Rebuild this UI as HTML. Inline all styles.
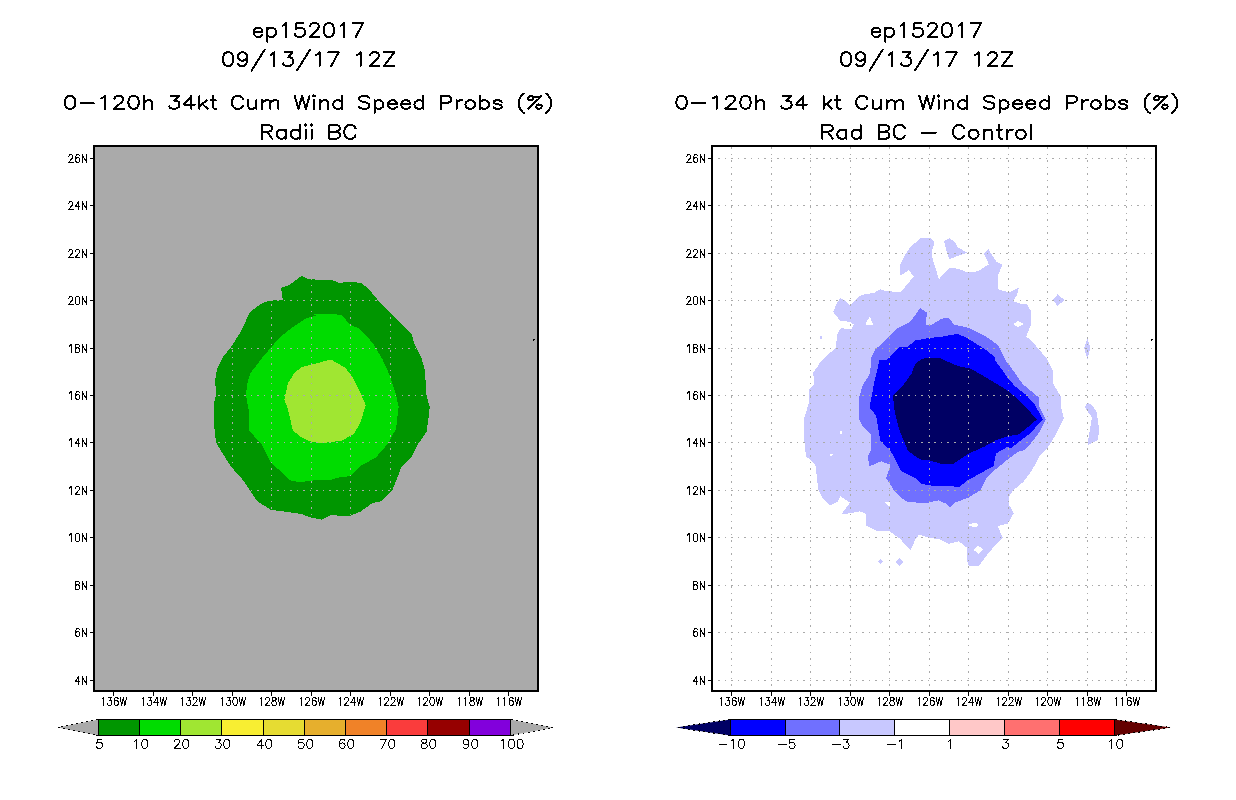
<!DOCTYPE html>
<html><head><meta charset="utf-8"><title>ep152017 wind speed probs</title>
<style>
html,body{margin:0;padding:0;background:#fff;width:1236px;height:800px;overflow:hidden}
svg{display:block}

.h1{fill:none;stroke:#000;stroke-width:1;stroke-linecap:round;stroke-linejoin:round}
.h2{fill:none;stroke:#000;stroke-width:2;stroke-linecap:round;stroke-linejoin:round}
</style></head><body>
<svg width="1236" height="800" viewBox="0 0 1236 800" shape-rendering="crispEdges">
<rect width="1236" height="800" fill="#fff"/>

<g>
<path d="M253.67 31.70L262.36 31.70L262.36 30.38L261.64 29.06L260.91 28.39L259.46 27.73L257.29 27.73L255.84 28.39L254.40 29.72L253.67 31.70L253.67 33.03L254.40 35.01L255.84 36.34L257.29 37.00L259.46 37.00L260.91 36.34L262.36 35.01M267.43 27.73L267.43 41.63M267.43 29.72L268.88 28.39L270.32 27.73L272.50 27.73L273.94 28.39L275.39 29.72L276.12 31.70L276.12 33.03L275.39 35.01L273.94 36.34L272.50 37.00L270.32 37.00L268.88 36.34L267.43 35.01M282.63 25.75L284.08 25.08L286.25 23.10L286.25 37.00M303.63 23.10L296.39 23.10L295.66 29.06L296.39 28.39L298.56 27.73L300.73 27.73L302.90 28.39L304.35 29.72L305.08 31.70L305.08 33.03L304.35 35.01L302.90 36.34L300.73 37.00L298.56 37.00L296.39 36.34L295.66 35.68L294.94 34.35M310.14 26.41L310.14 25.75L310.87 24.42L311.59 23.76L313.04 23.10L315.94 23.10L317.38 23.76L318.11 24.42L318.83 25.75L318.83 27.07L318.11 28.39L316.66 30.38L309.42 37.00L319.56 37.00M328.24 23.10L326.07 23.76L324.62 25.75L323.90 29.06L323.90 31.04L324.62 34.35L326.07 36.34L328.24 37.00L329.69 37.00L331.86 36.34L333.31 34.35L334.04 31.04L334.04 29.06L333.31 25.75L331.86 23.76L329.69 23.10L328.24 23.10M340.55 25.75L342.00 25.08L344.17 23.10L344.17 37.00M363.00 23.10L355.76 37.00M352.86 23.10L363.00 23.10" class="h2"/>
<path d="M227.39 52.24L225.19 52.90L223.73 54.87L223.00 58.14L223.00 60.10L223.73 63.38L225.19 65.34L227.39 66.00L228.85 66.00L231.05 65.34L232.51 63.38L233.24 60.10L233.24 58.14L232.51 54.87L231.05 52.90L228.85 52.24L227.39 52.24M247.15 56.83L246.42 58.80L244.96 60.10L242.76 60.76L242.03 60.76L239.83 60.10L238.37 58.80L237.64 56.83L237.64 56.17L238.37 54.21L239.83 52.90L242.03 52.24L242.76 52.24L244.96 52.90L246.42 54.21L247.15 56.83L247.15 60.10L246.42 63.38L244.96 65.34L242.76 66.00L241.30 66.00L239.10 65.34L238.37 64.03M264.72 49.62L251.54 70.58M270.58 54.87L272.04 54.21L274.24 52.24L274.24 66.00M284.48 52.24L292.54 52.24L288.14 57.48L290.34 57.48L291.80 58.14L292.54 58.80L293.27 60.76L293.27 62.07L292.54 64.03L291.07 65.34L288.88 66.00L286.68 66.00L284.48 65.34L283.75 64.69L283.02 63.38M310.10 49.62L296.93 70.58M315.96 54.87L317.42 54.21L319.62 52.24L319.62 66.00M338.65 52.24L331.33 66.00M328.40 52.24L338.65 52.24M356.95 54.87L358.42 54.21L360.61 52.24L360.61 66.00M370.13 55.52L370.13 54.87L370.86 53.55L371.59 52.90L373.06 52.24L375.98 52.24L377.45 52.90L378.18 53.55L378.91 54.87L378.91 56.17L378.18 57.48L376.72 59.45L369.40 66.00L379.64 66.00M394.28 52.24L384.04 66.00M384.04 52.24L394.28 52.24M384.04 66.00L394.28 66.00" class="h2"/>
<path d="M69.35 95.99L67.13 96.60L65.66 98.43L64.92 101.48L64.92 103.31L65.66 106.36L67.13 108.19L69.35 108.80L70.83 108.80L73.05 108.19L74.52 106.36L75.26 103.31L75.26 101.48L74.52 98.43L73.05 96.60L70.83 95.99L69.35 95.99M80.44 103.31L93.74 103.31M101.13 98.43L102.61 97.82L104.82 95.99L104.82 108.80M114.43 99.04L114.43 98.43L115.17 97.21L115.91 96.60L117.39 95.99L120.34 95.99L121.82 96.60L122.56 97.21L123.30 98.43L123.30 99.65L122.56 100.87L121.08 102.70L113.69 108.80L124.04 108.80M132.91 95.99L130.69 96.60L129.21 98.43L128.47 101.48L128.47 103.31L129.21 106.36L130.69 108.19L132.91 108.80L134.38 108.80L136.60 108.19L138.08 106.36L138.82 103.31L138.82 101.48L138.08 98.43L136.60 96.60L134.38 95.99L132.91 95.99M143.99 95.99L143.99 108.80M143.99 102.70L146.21 100.87L147.69 100.26L149.90 100.26L151.38 100.87L152.12 102.70L152.12 108.80M170.59 95.99L178.72 95.99L174.29 100.87L176.51 100.87L177.98 101.48L178.72 102.09L179.46 103.92L179.46 105.14L178.72 106.97L177.25 108.19L175.03 108.80L172.81 108.80L170.59 108.19L169.85 107.58L169.12 106.36M191.29 95.99L183.90 104.53L194.98 104.53M191.29 95.99L191.29 108.80M199.41 95.99L199.41 108.80M206.81 100.26L199.41 106.36M202.37 103.92L207.54 108.80M212.72 95.99L212.72 106.36L213.46 108.19L214.93 108.80L216.41 108.80M210.50 100.26L215.67 100.26M243.02 99.04L242.28 97.82L240.80 96.60L239.32 95.99L236.37 95.99L234.89 96.60L233.41 97.82L232.67 99.04L231.93 100.87L231.93 103.92L232.67 105.75L233.41 106.97L234.89 108.19L236.37 108.80L239.32 108.80L240.80 108.19L242.28 106.97L243.02 105.75M248.19 100.26L248.19 106.36L248.93 108.19L250.41 108.80L252.62 108.80L254.10 108.19L256.32 106.36M256.32 100.26L256.32 108.80M262.23 100.26L262.23 108.80M262.23 102.70L264.45 100.87L265.93 100.26L268.14 100.26L269.62 100.87L270.36 102.70L270.36 108.80M270.36 102.70L272.58 100.87L274.05 100.26L276.27 100.26L277.75 100.87L278.49 102.70L278.49 108.80M294.75 95.99L298.44 108.80M302.14 95.99L298.44 108.80M302.14 95.99L305.83 108.80M309.53 95.99L305.83 108.80M313.22 95.99L313.96 96.60L314.70 95.99L313.96 95.38L313.22 95.99M313.96 100.26L313.96 108.80M319.87 100.26L319.87 108.80M319.87 102.70L322.09 100.87L323.57 100.26L325.78 100.26L327.26 100.87L328.00 102.70L328.00 108.80M342.04 95.99L342.04 108.80M342.04 102.09L340.56 100.87L339.09 100.26L336.87 100.26L335.39 100.87L333.91 102.09L333.17 103.92L333.17 105.14L333.91 106.97L335.39 108.19L336.87 108.80L339.09 108.80L340.56 108.19L342.04 106.97M369.38 97.82L367.91 96.60L365.69 95.99L362.73 95.99L360.52 96.60L359.04 97.82L359.04 99.04L359.78 100.26L360.52 100.87L362.00 101.48L366.43 102.70L367.91 103.31L368.65 103.92L369.38 105.14L369.38 106.97L367.91 108.19L365.69 108.80L362.73 108.80L360.52 108.19L359.04 106.97M374.56 100.26L374.56 113.07M374.56 102.09L376.04 100.87L377.51 100.26L379.73 100.26L381.21 100.87L382.69 102.09L383.43 103.92L383.43 105.14L382.69 106.97L381.21 108.19L379.73 108.80L377.51 108.80L376.04 108.19L374.56 106.97M387.86 103.92L396.73 103.92L396.73 102.70L395.99 101.48L395.25 100.87L393.77 100.26L391.55 100.26L390.08 100.87L388.60 102.09L387.86 103.92L387.86 105.14L388.60 106.97L390.08 108.19L391.55 108.80L393.77 108.80L395.25 108.19L396.73 106.97M401.16 103.92L410.03 103.92L410.03 102.70L409.29 101.48L408.55 100.87L407.07 100.26L404.86 100.26L403.38 100.87L401.90 102.09L401.16 103.92L401.16 105.14L401.90 106.97L403.38 108.19L404.86 108.80L407.07 108.80L408.55 108.19L410.03 106.97M423.33 95.99L423.33 108.80M423.33 102.09L421.85 100.87L420.38 100.26L418.16 100.26L416.68 100.87L415.20 102.09L414.46 103.92L414.46 105.14L415.20 106.97L416.68 108.19L418.16 108.80L420.38 108.80L421.85 108.19L423.33 106.97M441.07 95.99L441.07 108.80M441.07 95.99L447.72 95.99L449.94 96.60L450.68 97.21L451.41 98.43L451.41 100.26L450.68 101.48L449.94 102.09L447.72 102.70L441.07 102.70M456.59 100.26L456.59 108.80M456.59 103.92L457.33 102.09L458.80 100.87L460.28 100.26L462.50 100.26M469.15 100.26L467.67 100.87L466.19 102.09L465.46 103.92L465.46 105.14L466.19 106.97L467.67 108.19L469.15 108.80L471.37 108.80L472.85 108.19L474.32 106.97L475.06 105.14L475.06 103.92L474.32 102.09L472.85 100.87L471.37 100.26L469.15 100.26M480.24 95.99L480.24 108.80M480.24 102.09L481.71 100.87L483.19 100.26L485.41 100.26L486.89 100.87L488.36 102.09L489.10 103.92L489.10 105.14L488.36 106.97L486.89 108.19L485.41 108.80L483.19 108.80L481.71 108.19L480.24 106.97M501.67 102.09L500.93 100.87L498.71 100.26L496.49 100.26L494.28 100.87L493.54 102.09L494.28 103.31L495.75 103.92L499.45 104.53L500.93 105.14L501.67 106.36L501.67 106.97L500.93 108.19L498.71 108.80L496.49 108.80L494.28 108.19L493.54 106.97M523.84 93.55L522.36 94.77L520.88 96.60L519.40 99.04L518.66 102.09L518.66 104.53L519.40 107.58L520.88 110.02L522.36 111.85L523.84 113.07M541.57 95.99L528.27 108.80M531.97 95.99L533.44 97.21L533.44 98.43L532.70 99.65L531.23 100.26L529.75 100.26L528.27 99.04L528.27 97.82L529.01 96.60L530.49 95.99L531.97 95.99L533.44 96.60L535.66 97.21L537.88 97.21L540.09 96.60L541.57 95.99M538.62 104.53L537.14 105.14L536.40 106.36L536.40 107.58L537.88 108.80L539.36 108.80L540.83 108.19L541.57 106.97L541.57 105.75L540.09 104.53L538.62 104.53M546.01 93.55L547.48 94.77L548.96 96.60L550.44 99.04L551.18 102.09L551.18 104.53L550.44 107.58L548.96 110.02L547.48 111.85L546.01 113.07" class="h2"/>
<path d="M261.78 125.00L261.78 138.80M261.78 125.00L268.47 125.00L270.70 125.66L271.45 126.32L272.19 127.63L272.19 128.95L271.45 130.26L270.70 130.92L268.47 131.57L261.78 131.57M266.98 131.57L272.19 138.80M285.58 129.60L285.58 138.80M285.58 131.57L284.10 130.26L282.61 129.60L280.38 129.60L278.89 130.26L277.40 131.57L276.66 133.54L276.66 134.86L277.40 136.83L278.89 138.14L280.38 138.80L282.61 138.80L284.10 138.14L285.58 136.83M299.72 125.00L299.72 138.80M299.72 131.57L298.23 130.26L296.74 129.60L294.51 129.60L293.02 130.26L291.54 131.57L290.79 133.54L290.79 134.86L291.54 136.83L293.02 138.14L294.51 138.80L296.74 138.80L298.23 138.14L299.72 136.83M304.93 125.00L305.67 125.66L306.42 125.00L305.67 124.35L304.93 125.00M305.67 129.60L305.67 138.80M310.88 125.00L311.62 125.66L312.37 125.00L311.62 124.35L310.88 125.00M311.62 129.60L311.62 138.80M329.48 125.00L329.48 138.80M329.48 125.00L336.18 125.00L338.41 125.66L339.15 126.32L339.90 127.63L339.90 128.95L339.15 130.26L338.41 130.92L336.18 131.57M329.48 131.57L336.18 131.57L338.41 132.23L339.15 132.89L339.90 134.20L339.90 136.17L339.15 137.49L338.41 138.14L336.18 138.80L329.48 138.80M355.52 128.29L354.78 126.97L353.29 125.66L351.80 125.00L348.82 125.00L347.34 125.66L345.85 126.97L345.10 128.29L344.36 130.26L344.36 133.54L345.10 135.52L345.85 136.83L347.34 138.14L348.82 138.80L351.80 138.80L353.29 138.14L354.78 136.83L355.52 135.52" class="h2"/>
<path d="M871.67 31.70L880.36 31.70L880.36 30.38L879.64 29.06L878.91 28.39L877.46 27.73L875.29 27.73L873.84 28.39L872.40 29.72L871.67 31.70L871.67 33.03L872.40 35.01L873.84 36.34L875.29 37.00L877.46 37.00L878.91 36.34L880.36 35.01M885.43 27.73L885.43 41.63M885.43 29.72L886.88 28.39L888.32 27.73L890.50 27.73L891.94 28.39L893.39 29.72L894.12 31.70L894.12 33.03L893.39 35.01L891.94 36.34L890.50 37.00L888.32 37.00L886.88 36.34L885.43 35.01M900.63 25.75L902.08 25.08L904.25 23.10L904.25 37.00M921.63 23.10L914.39 23.10L913.66 29.06L914.39 28.39L916.56 27.73L918.73 27.73L920.90 28.39L922.35 29.72L923.08 31.70L923.08 33.03L922.35 35.01L920.90 36.34L918.73 37.00L916.56 37.00L914.39 36.34L913.66 35.68L912.94 34.35M928.14 26.41L928.14 25.75L928.87 24.42L929.59 23.76L931.04 23.10L933.94 23.10L935.38 23.76L936.11 24.42L936.83 25.75L936.83 27.07L936.11 28.39L934.66 30.38L927.42 37.00L937.56 37.00M946.24 23.10L944.07 23.76L942.62 25.75L941.90 29.06L941.90 31.04L942.62 34.35L944.07 36.34L946.24 37.00L947.69 37.00L949.86 36.34L951.31 34.35L952.04 31.04L952.04 29.06L951.31 25.75L949.86 23.76L947.69 23.10L946.24 23.10M958.55 25.75L960.00 25.08L962.17 23.10L962.17 37.00M981.00 23.10L973.76 37.00M970.86 23.10L981.00 23.10" class="h2"/>
<path d="M845.39 52.24L843.19 52.90L841.73 54.87L841.00 58.14L841.00 60.10L841.73 63.38L843.19 65.34L845.39 66.00L846.85 66.00L849.05 65.34L850.51 63.38L851.24 60.10L851.24 58.14L850.51 54.87L849.05 52.90L846.85 52.24L845.39 52.24M865.15 56.83L864.42 58.80L862.96 60.10L860.76 60.76L860.03 60.76L857.83 60.10L856.37 58.80L855.64 56.83L855.64 56.17L856.37 54.21L857.83 52.90L860.03 52.24L860.76 52.24L862.96 52.90L864.42 54.21L865.15 56.83L865.15 60.10L864.42 63.38L862.96 65.34L860.76 66.00L859.30 66.00L857.10 65.34L856.37 64.03M882.72 49.62L869.54 70.58M888.58 54.87L890.04 54.21L892.24 52.24L892.24 66.00M902.48 52.24L910.54 52.24L906.14 57.48L908.34 57.48L909.80 58.14L910.54 58.80L911.27 60.76L911.27 62.07L910.54 64.03L909.07 65.34L906.88 66.00L904.68 66.00L902.48 65.34L901.75 64.69L901.02 63.38M928.10 49.62L914.93 70.58M933.96 54.87L935.42 54.21L937.62 52.24L937.62 66.00M956.65 52.24L949.33 66.00M946.40 52.24L956.65 52.24M974.95 54.87L976.42 54.21L978.61 52.24L978.61 66.00M988.13 55.52L988.13 54.87L988.86 53.55L989.59 52.90L991.06 52.24L993.98 52.24L995.45 52.90L996.18 53.55L996.91 54.87L996.91 56.17L996.18 57.48L994.72 59.45L987.40 66.00L997.64 66.00M1012.28 52.24L1002.04 66.00M1002.04 52.24L1012.28 52.24M1002.04 66.00L1012.28 66.00" class="h2"/>
<path d="M680.89 95.99L678.66 96.60L677.17 98.43L676.43 101.48L676.43 103.31L677.17 106.36L678.66 108.19L680.89 108.80L682.37 108.80L684.60 108.19L686.09 106.36L686.83 103.31L686.83 101.48L686.09 98.43L684.60 96.60L682.37 95.99L680.89 95.99M692.03 103.31L705.41 103.31M712.84 98.43L714.32 97.82L716.55 95.99L716.55 108.80M726.21 99.04L726.21 98.43L726.95 97.21L727.70 96.60L729.18 95.99L732.15 95.99L733.64 96.60L734.38 97.21L735.13 98.43L735.13 99.65L734.38 100.87L732.90 102.70L725.47 108.80L735.87 108.80M744.79 95.99L742.56 96.60L741.07 98.43L740.33 101.48L740.33 103.31L741.07 106.36L742.56 108.19L744.79 108.80L746.27 108.80L748.50 108.19L749.99 106.36L750.73 103.31L750.73 101.48L749.99 98.43L748.50 96.60L746.27 95.99L744.79 95.99M755.93 95.99L755.93 108.80M755.93 102.70L758.16 100.87L759.65 100.26L761.87 100.26L763.36 100.87L764.10 102.70L764.10 108.80M782.68 95.99L790.85 95.99L786.39 100.87L788.62 100.87L790.11 101.48L790.85 102.09L791.59 103.92L791.59 105.14L790.85 106.97L789.37 108.19L787.14 108.80L784.91 108.80L782.68 108.19L781.94 107.58L781.19 106.36M803.48 95.99L796.05 104.53L807.20 104.53M803.48 95.99L803.48 108.80M823.54 95.99L823.54 108.80M830.97 100.26L823.54 106.36M826.52 103.92L831.72 108.80M836.92 95.99L836.92 106.36L837.66 108.19L839.15 108.80L840.63 108.80M834.69 100.26L839.89 100.26M867.38 99.04L866.64 97.82L865.15 96.60L863.67 95.99L860.69 95.99L859.21 96.60L857.72 97.82L856.98 99.04L856.24 100.87L856.24 103.92L856.98 105.75L857.72 106.97L859.21 108.19L860.69 108.80L863.67 108.80L865.15 108.19L866.64 106.97L867.38 105.75M872.58 100.26L872.58 106.36L873.32 108.19L874.81 108.80L877.04 108.80L878.53 108.19L880.75 106.36M880.75 100.26L880.75 108.80M886.70 100.26L886.70 108.80M886.70 102.70L888.93 100.87L890.41 100.26L892.64 100.26L894.13 100.87L894.87 102.70L894.87 108.80M894.87 102.70L897.10 100.87L898.59 100.26L900.82 100.26L902.30 100.87L903.04 102.70L903.04 108.80M919.39 95.99L923.11 108.80M926.82 95.99L923.11 108.80M926.82 95.99L930.54 108.80M934.25 95.99L930.54 108.80M937.97 95.99L938.71 96.60L939.45 95.99L938.71 95.38L937.97 95.99M938.71 100.26L938.71 108.80M944.65 100.26L944.65 108.80M944.65 102.70L946.88 100.87L948.37 100.26L950.60 100.26L952.08 100.87L952.83 102.70L952.83 108.80M966.94 95.99L966.94 108.80M966.94 102.09L965.46 100.87L963.97 100.26L961.74 100.26L960.25 100.87L958.77 102.09L958.03 103.92L958.03 105.14L958.77 106.97L960.25 108.19L961.74 108.80L963.97 108.80L965.46 108.19L966.94 106.97M994.43 97.82L992.95 96.60L990.72 95.99L987.75 95.99L985.52 96.60L984.03 97.82L984.03 99.04L984.77 100.26L985.52 100.87L987.00 101.48L991.46 102.70L992.95 103.31L993.69 103.92L994.43 105.14L994.43 106.97L992.95 108.19L990.72 108.80L987.75 108.80L985.52 108.19L984.03 106.97M999.63 100.26L999.63 113.07M999.63 102.09L1001.12 100.87L1002.61 100.26L1004.84 100.26L1006.32 100.87L1007.81 102.09L1008.55 103.92L1008.55 105.14L1007.81 106.97L1006.32 108.19L1004.84 108.80L1002.61 108.80L1001.12 108.19L999.63 106.97M1013.01 103.92L1021.92 103.92L1021.92 102.70L1021.18 101.48L1020.44 100.87L1018.95 100.26L1016.72 100.26L1015.24 100.87L1013.75 102.09L1013.01 103.92L1013.01 105.14L1013.75 106.97L1015.24 108.19L1016.72 108.80L1018.95 108.80L1020.44 108.19L1021.92 106.97M1026.38 103.92L1035.30 103.92L1035.30 102.70L1034.56 101.48L1033.81 100.87L1032.33 100.26L1030.10 100.26L1028.61 100.87L1027.12 102.09L1026.38 103.92L1026.38 105.14L1027.12 106.97L1028.61 108.19L1030.10 108.80L1032.33 108.80L1033.81 108.19L1035.30 106.97M1048.67 95.99L1048.67 108.80M1048.67 102.09L1047.19 100.87L1045.70 100.26L1043.47 100.26L1041.99 100.87L1040.50 102.09L1039.76 103.92L1039.76 105.14L1040.50 106.97L1041.99 108.19L1043.47 108.80L1045.70 108.80L1047.19 108.19L1048.67 106.97M1066.50 95.99L1066.50 108.80M1066.50 95.99L1073.19 95.99L1075.42 96.60L1076.16 97.21L1076.91 98.43L1076.91 100.26L1076.16 101.48L1075.42 102.09L1073.19 102.70L1066.50 102.70M1082.11 100.26L1082.11 108.80M1082.11 103.92L1082.85 102.09L1084.34 100.87L1085.82 100.26L1088.05 100.26M1094.74 100.26L1093.25 100.87L1091.77 102.09L1091.02 103.92L1091.02 105.14L1091.77 106.97L1093.25 108.19L1094.74 108.80L1096.97 108.80L1098.45 108.19L1099.94 106.97L1100.68 105.14L1100.68 103.92L1099.94 102.09L1098.45 100.87L1096.97 100.26L1094.74 100.26M1105.88 95.99L1105.88 108.80M1105.88 102.09L1107.37 100.87L1108.86 100.26L1111.08 100.26L1112.57 100.87L1114.06 102.09L1114.80 103.92L1114.80 105.14L1114.06 106.97L1112.57 108.19L1111.08 108.80L1108.86 108.80L1107.37 108.19L1105.88 106.97M1127.43 102.09L1126.69 100.87L1124.46 100.26L1122.23 100.26L1120.00 100.87L1119.26 102.09L1120.00 103.31L1121.49 103.92L1125.20 104.53L1126.69 105.14L1127.43 106.36L1127.43 106.97L1126.69 108.19L1124.46 108.80L1122.23 108.80L1120.00 108.19L1119.26 106.97M1149.72 93.55L1148.23 94.77L1146.75 96.60L1145.26 99.04L1144.52 102.09L1144.52 104.53L1145.26 107.58L1146.75 110.02L1148.23 111.85L1149.72 113.07M1167.55 95.99L1154.18 108.80M1157.89 95.99L1159.38 97.21L1159.38 98.43L1158.64 99.65L1157.15 100.26L1155.66 100.26L1154.18 99.04L1154.18 97.82L1154.92 96.60L1156.41 95.99L1157.89 95.99L1159.38 96.60L1161.61 97.21L1163.84 97.21L1166.07 96.60L1167.55 95.99M1164.58 104.53L1163.09 105.14L1162.35 106.36L1162.35 107.58L1163.84 108.80L1165.32 108.80L1166.81 108.19L1167.55 106.97L1167.55 105.75L1166.07 104.53L1164.58 104.53M1172.01 93.55L1173.50 94.77L1174.98 96.60L1176.47 99.04L1177.21 102.09L1177.21 104.53L1176.47 107.58L1174.98 110.02L1173.50 111.85L1172.01 113.07" class="h2"/>
<path d="M822.30 125.00L822.30 138.80M822.30 125.00L829.06 125.00L831.32 125.66L832.07 126.32L832.82 127.63L832.82 128.95L832.07 130.26L831.32 130.92L829.06 131.57L822.30 131.57M827.56 131.57L832.82 138.80M846.34 129.60L846.34 138.80M846.34 131.57L844.83 130.26L843.33 129.60L841.08 129.60L839.58 130.26L838.07 131.57L837.32 133.54L837.32 134.86L838.07 136.83L839.58 138.14L841.08 138.80L843.33 138.80L844.83 138.14L846.34 136.83M860.60 125.00L860.60 138.80M860.60 131.57L859.10 130.26L857.60 129.60L855.35 129.60L853.85 130.26L852.34 131.57L851.59 133.54L851.59 134.86L852.34 136.83L853.85 138.14L855.35 138.80L857.60 138.80L859.10 138.14L860.60 136.83M878.63 125.00L878.63 138.80M878.63 125.00L885.39 125.00L887.64 125.66L888.39 126.32L889.14 127.63L889.14 128.95L888.39 130.26L887.64 130.92L885.39 131.57M878.63 131.57L885.39 131.57L887.64 132.23L888.39 132.89L889.14 134.20L889.14 136.17L888.39 137.49L887.64 138.14L885.39 138.80L878.63 138.80M904.91 128.29L904.16 126.97L902.66 125.66L901.16 125.00L898.15 125.00L896.65 125.66L895.15 126.97L894.40 128.29L893.65 130.26L893.65 133.54L894.40 135.52L895.15 136.83L896.65 138.14L898.15 138.80L901.16 138.80L902.66 138.14L904.16 136.83L904.91 135.52M922.19 132.89L935.70 132.89M964.24 128.29L963.49 126.97L961.99 125.66L960.49 125.00L957.48 125.00L955.98 125.66L954.48 126.97L953.73 128.29L952.98 130.26L952.98 133.54L953.73 135.52L954.48 136.83L955.98 138.14L957.48 138.80L960.49 138.80L961.99 138.14L963.49 136.83L964.24 135.52M972.50 129.60L971.00 130.26L969.50 131.57L968.75 133.54L968.75 134.86L969.50 136.83L971.00 138.14L972.50 138.80L974.76 138.80L976.26 138.14L977.76 136.83L978.51 134.86L978.51 133.54L977.76 131.57L976.26 130.26L974.76 129.60L972.50 129.60M983.77 129.60L983.77 138.80M983.77 132.23L986.02 130.26L987.52 129.60L989.78 129.60L991.28 130.26L992.03 132.23L992.03 138.80M998.79 125.00L998.79 136.17L999.54 138.14L1001.04 138.80L1002.54 138.80M996.54 129.60L1001.79 129.60M1007.05 129.60L1007.05 138.80M1007.05 133.54L1007.80 131.57L1009.30 130.26L1010.80 129.60L1013.06 129.60M1019.82 129.60L1018.31 130.26L1016.81 131.57L1016.06 133.54L1016.06 134.86L1016.81 136.83L1018.31 138.14L1019.82 138.80L1022.07 138.80L1023.57 138.14L1025.07 136.83L1025.82 134.86L1025.82 133.54L1025.07 131.57L1023.57 130.26L1022.07 129.60L1019.82 129.60M1031.08 125.00L1031.08 138.80" class="h2"/>
</g>
<rect x="95" y="147" width="442" height="543" fill="#aaaaaa"/>
<g >
<polygon points="301.3,276.0 309.7,279.4 332.0,279.9 339.5,283.2 345.5,281.9 360.7,282.7 367.4,287.8 374.2,295.4 380.9,303.8 389.4,312.3 411.3,333.4 414.7,344.4 421.4,357.9 424.8,369.7 426.5,395.0 429.9,407.7 426.5,432.1 418.1,444.0 411.3,457.5 401.2,467.6 392.7,489.5 380.9,501.4 372.5,503.0 360.7,511.5 350.5,515.7 340.4,515.7 330.3,515.2 321.8,519.6 310.0,517.4 301.3,514.0 284.4,511.5 270.9,509.8 257.4,501.4 250.6,491.2 243.9,481.1 230.4,465.9 222.0,452.4 216.0,442.3 213.5,420.3 213.5,405.1 216.0,395.0 215.2,379.8 216.9,369.7 223.6,356.2 230.4,347.7 240.5,332.5 249.8,312.3 260.8,303.8 269.2,300.8 282.7,299.6 281.0,287.8 289.5,285.0 294.5,281.0" fill="#009600"/>
<polygon points="310.0,314.8 320.1,314.0 332.0,313.6 342.0,315.6 350.5,325.0 359.0,328.3 372.5,342.7 382.6,359.5 389.4,374.7 396.1,395.0 398.6,406.8 396.1,428.8 387.7,444.0 375.8,457.5 360.7,465.9 350.5,476.0 337.0,477.7 330.3,480.3 315.1,480.3 301.3,482.0 291.2,481.1 270.9,462.5 262.5,445.6 257.4,439.7 249.0,430.5 249.0,411.9 246.0,395.0 247.3,383.2 250.6,373.0 260.8,359.5 270.9,347.7 279.4,337.6 291.2,328.3 304.7,319.0 318.2,314.8" fill="#00dc00"/>
<polygon points="331.1,359.5 345.5,368.0 352.2,376.4 360.7,393.3 365.7,405.1 360.7,422.0 353.9,433.8 342.1,440.6 321.8,443.1 310.0,441.4 301.3,437.2 292.9,430.5 287.8,408.5 284.4,400.0 287.8,383.2 294.5,373.0 301.3,367.1 318.2,362.9" fill="#a0e632"/>
</g>
<g stroke="#aaaaaa" stroke-width="1" fill="none">
<path d="M113.5 690V147M153.5 690V147M192.5 690V147M232.5 690V147M271.5 690V147M311.5 690V147M350.5 690V147M390.5 690V147M429.5 690V147M469.5 690V147M508.5 690V147" stroke-dasharray="1.5 5.05" stroke-dashoffset="2.30"/>
<path d="M94 680.5H537M94 632.5H537M94 585.5H537M94 537.5H537M94 490.5H537M94 442.5H537M94 395.5H537M94 348.5H537M94 300.5H537M94 253.5H537M94 205.5H537M94 158.5H537" stroke-dasharray="1.5 5.05" stroke-dashoffset="0.35"/>
</g>
<path d="M533 339h2v1h-1v1h-1z" fill="#000"/>
<rect x="94" y="146" width="444" height="545" fill="none" stroke="#000" stroke-width="2"/>
<line x1="90" y1="680.5" x2="93" y2="680.5" stroke="#000" stroke-width="1"/>
<line x1="90" y1="632.5" x2="93" y2="632.5" stroke="#000" stroke-width="1"/>
<line x1="90" y1="585.5" x2="93" y2="585.5" stroke="#000" stroke-width="1"/>
<line x1="90" y1="537.5" x2="93" y2="537.5" stroke="#000" stroke-width="1"/>
<line x1="90" y1="490.5" x2="93" y2="490.5" stroke="#000" stroke-width="1"/>
<line x1="90" y1="442.5" x2="93" y2="442.5" stroke="#000" stroke-width="1"/>
<line x1="90" y1="395.5" x2="93" y2="395.5" stroke="#000" stroke-width="1"/>
<line x1="90" y1="348.5" x2="93" y2="348.5" stroke="#000" stroke-width="1"/>
<line x1="90" y1="300.5" x2="93" y2="300.5" stroke="#000" stroke-width="1"/>
<line x1="90" y1="253.5" x2="93" y2="253.5" stroke="#000" stroke-width="1"/>
<line x1="90" y1="205.5" x2="93" y2="205.5" stroke="#000" stroke-width="1"/>
<line x1="90" y1="158.5" x2="93" y2="158.5" stroke="#000" stroke-width="1"/>
<line x1="113.5" y1="692" x2="113.5" y2="696" stroke="#000" stroke-width="1"/>
<line x1="153.5" y1="692" x2="153.5" y2="696" stroke="#000" stroke-width="1"/>
<line x1="192.5" y1="692" x2="192.5" y2="696" stroke="#000" stroke-width="1"/>
<line x1="232.5" y1="692" x2="232.5" y2="696" stroke="#000" stroke-width="1"/>
<line x1="271.5" y1="692" x2="271.5" y2="696" stroke="#000" stroke-width="1"/>
<line x1="311.5" y1="692" x2="311.5" y2="696" stroke="#000" stroke-width="1"/>
<line x1="350.5" y1="692" x2="350.5" y2="696" stroke="#000" stroke-width="1"/>
<line x1="390.5" y1="692" x2="390.5" y2="696" stroke="#000" stroke-width="1"/>
<line x1="429.5" y1="692" x2="429.5" y2="696" stroke="#000" stroke-width="1"/>
<line x1="469.5" y1="692" x2="469.5" y2="696" stroke="#000" stroke-width="1"/>
<line x1="508.5" y1="692" x2="508.5" y2="696" stroke="#000" stroke-width="1"/>
<path d="M78.43 676.50L75.13 681.83L80.08 681.83M78.43 676.50L78.43 684.50M82.06 676.50L82.06 684.50M82.06 676.50L86.68 684.50M86.68 676.50L86.68 684.50M79.42 629.64L79.09 628.88L78.10 628.50L77.44 628.50L76.45 628.88L75.79 630.02L75.46 631.93L75.46 633.83L75.79 635.36L76.45 636.12L77.44 636.50L77.77 636.50L78.76 636.12L79.42 635.36L79.75 634.21L79.75 633.83L79.42 632.69L78.76 631.93L77.77 631.55L77.44 631.55L76.45 631.93L75.79 632.69L75.46 633.83M82.06 628.50L82.06 636.50M82.06 628.50L86.68 636.50M86.68 628.50L86.68 636.50M76.78 581.50L75.79 581.88L75.46 582.64L75.46 583.40L75.79 584.17L76.45 584.55L77.77 584.93L78.76 585.31L79.42 586.07L79.75 586.83L79.75 587.98L79.42 588.74L79.09 589.12L78.10 589.50L76.78 589.50L75.79 589.12L75.46 588.74L75.13 587.98L75.13 586.83L75.46 586.07L76.12 585.31L77.11 584.93L78.43 584.55L79.09 584.17L79.42 583.40L79.42 582.64L79.09 581.88L78.10 581.50L76.78 581.50M82.06 581.50L82.06 589.50M82.06 581.50L86.68 589.50M86.68 581.50L86.68 589.50M69.52 535.02L70.18 534.64L71.17 533.50L71.17 541.50M77.11 533.50L76.12 533.88L75.46 535.02L75.13 536.93L75.13 538.07L75.46 539.98L76.12 541.12L77.11 541.50L77.77 541.50L78.76 541.12L79.42 539.98L79.75 538.07L79.75 536.93L79.42 535.02L78.76 533.88L77.77 533.50L77.11 533.50M82.06 533.50L82.06 541.50M82.06 533.50L86.68 541.50M86.68 533.50L86.68 541.50M69.52 488.02L70.18 487.64L71.17 486.50L71.17 494.50M75.46 488.40L75.46 488.02L75.79 487.26L76.12 486.88L76.78 486.50L78.10 486.50L78.76 486.88L79.09 487.26L79.42 488.02L79.42 488.79L79.09 489.55L78.43 490.69L75.13 494.50L79.75 494.50M82.06 486.50L82.06 494.50M82.06 486.50L86.68 494.50M86.68 486.50L86.68 494.50M69.52 440.02L70.18 439.64L71.17 438.50L71.17 446.50M78.43 438.50L75.13 443.83L80.08 443.83M78.43 438.50L78.43 446.50M82.06 438.50L82.06 446.50M82.06 438.50L86.68 446.50M86.68 438.50L86.68 446.50M69.52 393.02L70.18 392.64L71.17 391.50L71.17 399.50M79.42 392.64L79.09 391.88L78.10 391.50L77.44 391.50L76.45 391.88L75.79 393.02L75.46 394.93L75.46 396.83L75.79 398.36L76.45 399.12L77.44 399.50L77.77 399.50L78.76 399.12L79.42 398.36L79.75 397.21L79.75 396.83L79.42 395.69L78.76 394.93L77.77 394.55L77.44 394.55L76.45 394.93L75.79 395.69L75.46 396.83M82.06 391.50L82.06 399.50M82.06 391.50L86.68 399.50M86.68 391.50L86.68 399.50M69.52 346.02L70.18 345.64L71.17 344.50L71.17 352.50M76.78 344.50L75.79 344.88L75.46 345.64L75.46 346.40L75.79 347.17L76.45 347.55L77.77 347.93L78.76 348.31L79.42 349.07L79.75 349.83L79.75 350.98L79.42 351.74L79.09 352.12L78.10 352.50L76.78 352.50L75.79 352.12L75.46 351.74L75.13 350.98L75.13 349.83L75.46 349.07L76.12 348.31L77.11 347.93L78.43 347.55L79.09 347.17L79.42 346.40L79.42 345.64L79.09 344.88L78.10 344.50L76.78 344.50M82.06 344.50L82.06 352.50M82.06 344.50L86.68 352.50M86.68 344.50L86.68 352.50M68.86 298.40L68.86 298.02L69.19 297.26L69.52 296.88L70.18 296.50L71.50 296.50L72.16 296.88L72.49 297.26L72.82 298.02L72.82 298.79L72.49 299.55L71.83 300.69L68.53 304.50L73.15 304.50M77.11 296.50L76.12 296.88L75.46 298.02L75.13 299.93L75.13 301.07L75.46 302.98L76.12 304.12L77.11 304.50L77.77 304.50L78.76 304.12L79.42 302.98L79.75 301.07L79.75 299.93L79.42 298.02L78.76 296.88L77.77 296.50L77.11 296.50M82.06 296.50L82.06 304.50M82.06 296.50L86.68 304.50M86.68 296.50L86.68 304.50M68.86 251.40L68.86 251.02L69.19 250.26L69.52 249.88L70.18 249.50L71.50 249.50L72.16 249.88L72.49 250.26L72.82 251.02L72.82 251.78L72.49 252.55L71.83 253.69L68.53 257.50L73.15 257.50M75.46 251.40L75.46 251.02L75.79 250.26L76.12 249.88L76.78 249.50L78.10 249.50L78.76 249.88L79.09 250.26L79.42 251.02L79.42 251.78L79.09 252.55L78.43 253.69L75.13 257.50L79.75 257.50M82.06 249.50L82.06 257.50M82.06 249.50L86.68 257.50M86.68 249.50L86.68 257.50M68.86 203.40L68.86 203.02L69.19 202.26L69.52 201.88L70.18 201.50L71.50 201.50L72.16 201.88L72.49 202.26L72.82 203.02L72.82 203.78L72.49 204.55L71.83 205.69L68.53 209.50L73.15 209.50M78.43 201.50L75.13 206.83L80.08 206.83M78.43 201.50L78.43 209.50M82.06 201.50L82.06 209.50M82.06 201.50L86.68 209.50M86.68 201.50L86.68 209.50M68.86 156.40L68.86 156.02L69.19 155.26L69.52 154.88L70.18 154.50L71.50 154.50L72.16 154.88L72.49 155.26L72.82 156.02L72.82 156.78L72.49 157.55L71.83 158.69L68.53 162.50L73.15 162.50M79.42 155.64L79.09 154.88L78.10 154.50L77.44 154.50L76.45 154.88L75.79 156.02L75.46 157.93L75.46 159.83L75.79 161.36L76.45 162.12L77.44 162.50L77.77 162.50L78.76 162.12L79.42 161.36L79.75 160.21L79.75 159.83L79.42 158.69L78.76 157.93L77.77 157.55L77.44 157.55L76.45 157.93L75.79 158.69L75.46 159.83M82.06 154.50L82.06 162.50M82.06 154.50L86.68 162.50M86.68 154.50L86.68 162.50M101.80 698.94L102.45 698.55L103.42 697.39L103.42 705.50M107.97 697.39L111.55 697.39L109.60 700.48L110.57 700.48L111.22 700.87L111.55 701.25L111.88 702.41L111.88 703.18L111.55 704.34L110.90 705.11L109.92 705.50L108.95 705.50L107.97 705.11L107.65 704.73L107.32 703.96M118.05 698.55L117.72 697.78L116.75 697.39L116.10 697.39L115.12 697.78L114.47 698.94L114.15 700.87L114.15 702.80L114.47 704.34L115.12 705.11L116.10 705.50L116.42 705.50L117.40 705.11L118.05 704.34L118.38 703.18L118.38 702.80L118.05 701.64L117.40 700.87L116.42 700.48L116.10 700.48L115.12 700.87L114.47 701.64L114.15 702.80M120.00 697.39L121.62 705.50M123.25 697.39L121.62 705.50M123.25 697.39L124.88 705.50M126.50 697.39L124.88 705.50M141.80 698.94L142.45 698.55L143.42 697.39L143.42 705.50M147.97 697.39L151.55 697.39L149.60 700.48L150.57 700.48L151.22 700.87L151.55 701.25L151.88 702.41L151.88 703.18L151.55 704.34L150.90 705.11L149.92 705.50L148.95 705.50L147.97 705.11L147.65 704.73L147.32 703.96M157.07 697.39L153.82 702.80L158.70 702.80M157.07 697.39L157.07 705.50M160.00 697.39L161.62 705.50M163.25 697.39L161.62 705.50M163.25 697.39L164.88 705.50M166.50 697.39L164.88 705.50M180.80 698.94L181.45 698.55L182.42 697.39L182.42 705.50M186.97 697.39L190.55 697.39L188.60 700.48L189.57 700.48L190.22 700.87L190.55 701.25L190.88 702.41L190.88 703.18L190.55 704.34L189.90 705.11L188.92 705.50L187.95 705.50L186.97 705.11L186.65 704.73L186.32 703.96M193.15 699.32L193.15 698.94L193.47 698.17L193.80 697.78L194.45 697.39L195.75 697.39L196.40 697.78L196.72 698.17L197.05 698.94L197.05 699.71L196.72 700.48L196.07 701.64L192.82 705.50L197.38 705.50M199.00 697.39L200.62 705.50M202.25 697.39L200.62 705.50M202.25 697.39L203.88 705.50M205.50 697.39L203.88 705.50M220.80 698.94L221.45 698.55L222.42 697.39L222.42 705.50M226.97 697.39L230.55 697.39L228.60 700.48L229.57 700.48L230.22 700.87L230.55 701.25L230.88 702.41L230.88 703.18L230.55 704.34L229.90 705.11L228.92 705.50L227.95 705.50L226.97 705.11L226.65 704.73L226.32 703.96M234.78 697.39L233.80 697.78L233.15 698.94L232.82 700.87L232.82 702.03L233.15 703.96L233.80 705.11L234.78 705.50L235.42 705.50L236.40 705.11L237.05 703.96L237.38 702.03L237.38 700.87L237.05 698.94L236.40 697.78L235.42 697.39L234.78 697.39M239.00 697.39L240.62 705.50M242.25 697.39L240.62 705.50M242.25 697.39L243.88 705.50M245.50 697.39L243.88 705.50M259.80 698.94L260.45 698.55L261.43 697.39L261.43 705.50M265.65 699.32L265.65 698.94L265.98 698.17L266.30 697.78L266.95 697.39L268.25 697.39L268.90 697.78L269.23 698.17L269.55 698.94L269.55 699.71L269.23 700.48L268.58 701.64L265.33 705.50L269.88 705.50M273.45 697.39L272.48 697.78L272.15 698.55L272.15 699.32L272.48 700.10L273.12 700.48L274.43 700.87L275.40 701.25L276.05 702.03L276.38 702.80L276.38 703.96L276.05 704.73L275.73 705.11L274.75 705.50L273.45 705.50L272.48 705.11L272.15 704.73L271.83 703.96L271.83 702.80L272.15 702.03L272.80 701.25L273.78 700.87L275.08 700.48L275.73 700.10L276.05 699.32L276.05 698.55L275.73 697.78L274.75 697.39L273.45 697.39M278.00 697.39L279.62 705.50M281.25 697.39L279.62 705.50M281.25 697.39L282.88 705.50M284.50 697.39L282.88 705.50M299.80 698.94L300.45 698.55L301.43 697.39L301.43 705.50M305.65 699.32L305.65 698.94L305.98 698.17L306.30 697.78L306.95 697.39L308.25 697.39L308.90 697.78L309.23 698.17L309.55 698.94L309.55 699.71L309.23 700.48L308.58 701.64L305.33 705.50L309.88 705.50M316.05 698.55L315.73 697.78L314.75 697.39L314.10 697.39L313.12 697.78L312.48 698.94L312.15 700.87L312.15 702.80L312.48 704.34L313.12 705.11L314.10 705.50L314.43 705.50L315.40 705.11L316.05 704.34L316.38 703.18L316.38 702.80L316.05 701.64L315.40 700.87L314.43 700.48L314.10 700.48L313.12 700.87L312.48 701.64L312.15 702.80M318.00 697.39L319.62 705.50M321.25 697.39L319.62 705.50M321.25 697.39L322.88 705.50M324.50 697.39L322.88 705.50M338.80 698.94L339.45 698.55L340.43 697.39L340.43 705.50M344.65 699.32L344.65 698.94L344.98 698.17L345.30 697.78L345.95 697.39L347.25 697.39L347.90 697.78L348.23 698.17L348.55 698.94L348.55 699.71L348.23 700.48L347.58 701.64L344.33 705.50L348.88 705.50M354.08 697.39L350.83 702.80L355.70 702.80M354.08 697.39L354.08 705.50M357.00 697.39L358.62 705.50M360.25 697.39L358.62 705.50M360.25 697.39L361.88 705.50M363.50 697.39L361.88 705.50M378.80 698.94L379.45 698.55L380.43 697.39L380.43 705.50M384.65 699.32L384.65 698.94L384.98 698.17L385.30 697.78L385.95 697.39L387.25 697.39L387.90 697.78L388.23 698.17L388.55 698.94L388.55 699.71L388.23 700.48L387.58 701.64L384.33 705.50L388.88 705.50M391.15 699.32L391.15 698.94L391.48 698.17L391.80 697.78L392.45 697.39L393.75 697.39L394.40 697.78L394.73 698.17L395.05 698.94L395.05 699.71L394.73 700.48L394.08 701.64L390.83 705.50L395.38 705.50M397.00 697.39L398.62 705.50M400.25 697.39L398.62 705.50M400.25 697.39L401.88 705.50M403.50 697.39L401.88 705.50M417.80 698.94L418.45 698.55L419.43 697.39L419.43 705.50M423.65 699.32L423.65 698.94L423.98 698.17L424.30 697.78L424.95 697.39L426.25 697.39L426.90 697.78L427.23 698.17L427.55 698.94L427.55 699.71L427.23 700.48L426.58 701.64L423.33 705.50L427.88 705.50M431.78 697.39L430.80 697.78L430.15 698.94L429.83 700.87L429.83 702.03L430.15 703.96L430.80 705.11L431.78 705.50L432.43 705.50L433.40 705.11L434.05 703.96L434.38 702.03L434.38 700.87L434.05 698.94L433.40 697.78L432.43 697.39L431.78 697.39M436.00 697.39L437.62 705.50M439.25 697.39L437.62 705.50M439.25 697.39L440.88 705.50M442.50 697.39L440.88 705.50M457.80 698.94L458.45 698.55L459.43 697.39L459.43 705.50M464.30 698.94L464.95 698.55L465.93 697.39L465.93 705.50M471.45 697.39L470.48 697.78L470.15 698.55L470.15 699.32L470.48 700.10L471.12 700.48L472.43 700.87L473.40 701.25L474.05 702.03L474.38 702.80L474.38 703.96L474.05 704.73L473.73 705.11L472.75 705.50L471.45 705.50L470.48 705.11L470.15 704.73L469.83 703.96L469.83 702.80L470.15 702.03L470.80 701.25L471.78 700.87L473.08 700.48L473.73 700.10L474.05 699.32L474.05 698.55L473.73 697.78L472.75 697.39L471.45 697.39M476.00 697.39L477.62 705.50M479.25 697.39L477.62 705.50M479.25 697.39L480.88 705.50M482.50 697.39L480.88 705.50M496.80 698.94L497.45 698.55L498.43 697.39L498.43 705.50M503.30 698.94L503.95 698.55L504.93 697.39L504.93 705.50M513.05 698.55L512.73 697.78L511.75 697.39L511.10 697.39L510.12 697.78L509.48 698.94L509.15 700.87L509.15 702.80L509.48 704.34L510.12 705.11L511.10 705.50L511.43 705.50L512.40 705.11L513.05 704.34L513.38 703.18L513.38 702.80L513.05 701.64L512.40 700.87L511.43 700.48L511.10 700.48L510.12 700.87L509.48 701.64L509.15 702.80M515.00 697.39L516.62 705.50M518.25 697.39L516.62 705.50M518.25 697.39L519.88 705.50M521.50 697.39L519.88 705.50" class="h1"/>
<g >
<polygon points="818.7,365.0 820.0,362.5 828.8,353.8 835.6,348.1 837.5,333.8 841.3,327.5 845.0,328.8 851.3,329.4 853.8,324.4 850.0,321.9 840.0,320.6 833.1,311.9 837.5,301.9 840.6,298.1 845.0,300.6 850.0,305.0 856.3,298.8 861.3,295.0 875.0,292.5 880.0,289.2 886.3,291.3 901.0,291.8 913.7,276.5 908.9,270.2 900.5,275.5 900.0,265.0 905.2,254.4 910.5,247.1 920.5,238.1 930.5,238.1 934.7,241.8 931.5,252.3 932.6,258.7 938.9,279.2 949.4,268.1 957.8,268.6 967.3,272.3 977.8,271.3 988.9,264.4 984.1,253.9 988.3,249.2 996.7,261.8 1002.5,265.0 998.3,274.4 997.8,289.2 1008.3,292.3 1009.5,292.5 1018.8,287.4 1017.1,295.0 1012.9,300.9 1020.0,303.6 1026.8,304.2 1031.2,311.5 1031.2,323.9 1026.2,336.3 1033.5,343.0 1047.0,358.8 1052.6,370.1 1053.2,383.6 1060.5,396.0 1060.5,405.0 1063.9,418.5 1056.0,434.3 1047.0,448.9 1039.9,455.2 1034.8,465.3 1029.7,473.7 1023.0,482.2 1012.9,490.6 1008.7,497.4 1008.7,504.1 1013.7,513.4 1007.8,523.5 997.7,526.1 1002.7,537.9 994.3,546.3 985.9,556.4 979.1,565.7 969.0,565.7 966.5,559.8 967.3,548.0 958.9,541.2 948.7,543.8 940.3,539.6 928.5,537.5 919.2,534.5 915.0,540.0 910.6,550.6 900.0,538.8 888.8,530.6 877.5,531.3 866.3,525.6 865.6,513.8 860.0,511.3 851.3,513.1 841.3,514.4 850.0,502.5 840.6,496.3 837.5,501.9 830.0,505.6 822.5,497.5 818.1,488.8 817.0,478.2 815.3,464.7 806.0,456.2 804.4,441.0 804.4,417.4 808.6,403.9 809.4,389.5 814.5,383.6 813.1,372.5" fill="#c8c8ff"/>
<polygon points="944.2,241.3 949.4,238.1 954.7,241.8 957.8,247.1 967.3,252.9 957.8,256.0 949.4,259.2 946.3,250.2" fill="#c8c8ff"/>
<polygon points="1052.6,300.2 1057.7,294.1 1064.4,300.2 1057.7,305.9" fill="#c8c8ff"/>
<polygon points="1087.5,338.5 1090.3,348.0 1087.5,359.3 1084.1,348.0" fill="#c8c8ff"/>
<polygon points="1087.5,402.8 1092.0,405.0 1096.5,411.7 1099.3,429.7 1097.6,440.4 1087.5,445.5 1088.6,437.6 1092.0,417.4 1084.7,407.2" fill="#c8c8ff"/>
<polygon points="877.5,561.5 880.0,559.0 882.5,561.5 880.0,564.0" fill="#c8c8ff"/>
<polygon points="895.4,561.9 899.4,557.9 903.4,561.9 899.4,565.9" fill="#c8c8ff"/>
<polygon points="819.6,336.0 821.6,336.0 821.6,338.5 819.6,338.5" fill="#c8c8ff"/>
<polygon points="870.0,316.3 873.1,325.0 865.0,324.4" fill="#ffffff"/>
<polygon points="1012.9,324.0 1018.0,321.2 1023.9,324.0 1018.0,327.1" fill="#ffffff"/>
<polygon points="968.0,525.0 975.0,522.5 979.0,525.0 975.0,527.5" fill="#ffffff"/>
<polygon points="973.3,549.7 978.3,545.7 983.3,549.7 978.3,553.7" fill="#ffffff"/>
<polygon points="883.8,501.9 890.0,502.5 890.0,506.9" fill="#ffffff"/>
<polygon points="839.6,430.5 841.6,430.5 841.6,434.0 839.6,434.0" fill="#ffffff"/>
<polygon points="830.0,453.5 833.0,454.5 830.0,456.5" fill="#ffffff"/>
<polygon points="871.0,365.0 871.0,358.3 876.1,348.2 881.2,344.8 889.6,336.4 898.0,328.0 909.9,322.0 913.2,317.8 920.1,308.0 926.8,312.7 926.0,325.4 931.9,324.5 942.0,318.6 948.8,317.8 953.8,324.5 969.0,327.9 985.9,336.4 997.7,344.8 1006.2,361.7 1007.5,362.5 1016.3,375.0 1022.5,383.8 1031.3,391.3 1038.8,397.5 1039.4,406.3 1045.6,419.4 1040.0,431.3 1032.5,441.3 1025.0,450.0 1017.9,451.8 1007.8,459.4 994.3,470.4 985.9,478.8 980.8,489.8 969.0,497.4 955.5,502.4 949.6,507.5 947.1,504.1 938.6,500.4 925.1,503.3 915.0,502.4 908.8,502.5 902.5,498.8 893.8,490.0 886.2,478.2 890.5,464.7 881.2,461.3 869.4,466.4 867.7,456.2 871.0,449.5 871.0,434.3 862.6,425.8 859.2,419.1 859.2,397.1 862.6,385.3 869.4,375.2" fill="#7070ff"/>
<polygon points="879.5,360.0 886.2,360.0 893.0,353.2 899.7,346.5 908.2,346.5 915.0,340.6 928.5,338.1 943.7,336.4 957.2,333.8 967.3,338.1 985.9,349.9 994.4,356.6 995.0,360.0 1001.3,368.8 1007.5,377.5 1015.0,386.3 1026.3,395.0 1035.0,405.0 1043.0,419.5 1037.5,425.0 1031.3,432.5 1021.3,440.0 1010.0,448.8 1007.8,446.7 996.0,453.5 993.5,466.2 982.5,472.1 967.3,480.5 958.9,487.2 948.7,485.6 931.9,485.6 921.8,483.9 915.0,478.0 901.4,471.4 894.7,457.9 889.6,449.5 880.3,441.0 876.1,415.7 869.4,407.3 874.4,382.0" fill="#0000ff"/>
<polygon points="911.6,373.5 915.0,364.4 921.3,359.0 928.8,357.5 938.8,357.5 945.0,360.6 958.8,366.3 968.8,368.1 977.5,372.5 992.5,381.3 1008.8,391.3 1021.3,402.5 1036.9,419.4 1027.5,427.5 1018.8,434.4 1007.5,436.3 996.3,440.0 985.0,446.3 969.0,453.5 953.8,463.6 940.3,463.6 928.5,460.2 920.1,459.4 908.2,451.2 899.7,430.9 894.7,412.3 893.0,395.5 903.1,385.3" fill="#000064"/>
</g>
<g stroke="#aaaaaa" stroke-width="1" fill="none">
<path d="M731.5 690V147M771.5 690V147M810.5 690V147M850.5 690V147M889.5 690V147M929.5 690V147M968.5 690V147M1008.5 690V147M1047.5 690V147M1087.5 690V147M1126.5 690V147" stroke-dasharray="1.5 5.05" stroke-dashoffset="2.30"/>
<path d="M712 680.5H1155M712 632.5H1155M712 585.5H1155M712 537.5H1155M712 490.5H1155M712 442.5H1155M712 395.5H1155M712 348.5H1155M712 300.5H1155M712 253.5H1155M712 205.5H1155M712 158.5H1155" stroke-dasharray="1.5 5.05" stroke-dashoffset="0.35"/>
</g>
<path d="M1151 339h2v1h-1v1h-1z" fill="#000"/>
<rect x="712" y="146" width="444" height="545" fill="none" stroke="#000" stroke-width="2"/>
<line x1="708" y1="680.5" x2="711" y2="680.5" stroke="#000" stroke-width="1"/>
<line x1="708" y1="632.5" x2="711" y2="632.5" stroke="#000" stroke-width="1"/>
<line x1="708" y1="585.5" x2="711" y2="585.5" stroke="#000" stroke-width="1"/>
<line x1="708" y1="537.5" x2="711" y2="537.5" stroke="#000" stroke-width="1"/>
<line x1="708" y1="490.5" x2="711" y2="490.5" stroke="#000" stroke-width="1"/>
<line x1="708" y1="442.5" x2="711" y2="442.5" stroke="#000" stroke-width="1"/>
<line x1="708" y1="395.5" x2="711" y2="395.5" stroke="#000" stroke-width="1"/>
<line x1="708" y1="348.5" x2="711" y2="348.5" stroke="#000" stroke-width="1"/>
<line x1="708" y1="300.5" x2="711" y2="300.5" stroke="#000" stroke-width="1"/>
<line x1="708" y1="253.5" x2="711" y2="253.5" stroke="#000" stroke-width="1"/>
<line x1="708" y1="205.5" x2="711" y2="205.5" stroke="#000" stroke-width="1"/>
<line x1="708" y1="158.5" x2="711" y2="158.5" stroke="#000" stroke-width="1"/>
<line x1="731.5" y1="692" x2="731.5" y2="696" stroke="#000" stroke-width="1"/>
<line x1="771.5" y1="692" x2="771.5" y2="696" stroke="#000" stroke-width="1"/>
<line x1="810.5" y1="692" x2="810.5" y2="696" stroke="#000" stroke-width="1"/>
<line x1="850.5" y1="692" x2="850.5" y2="696" stroke="#000" stroke-width="1"/>
<line x1="889.5" y1="692" x2="889.5" y2="696" stroke="#000" stroke-width="1"/>
<line x1="929.5" y1="692" x2="929.5" y2="696" stroke="#000" stroke-width="1"/>
<line x1="968.5" y1="692" x2="968.5" y2="696" stroke="#000" stroke-width="1"/>
<line x1="1008.5" y1="692" x2="1008.5" y2="696" stroke="#000" stroke-width="1"/>
<line x1="1047.5" y1="692" x2="1047.5" y2="696" stroke="#000" stroke-width="1"/>
<line x1="1087.5" y1="692" x2="1087.5" y2="696" stroke="#000" stroke-width="1"/>
<line x1="1126.5" y1="692" x2="1126.5" y2="696" stroke="#000" stroke-width="1"/>
<path d="M696.43 676.50L693.13 681.83L698.08 681.83M696.43 676.50L696.43 684.50M700.06 676.50L700.06 684.50M700.06 676.50L704.68 684.50M704.68 676.50L704.68 684.50M697.42 629.64L697.09 628.88L696.10 628.50L695.44 628.50L694.45 628.88L693.79 630.02L693.46 631.93L693.46 633.83L693.79 635.36L694.45 636.12L695.44 636.50L695.77 636.50L696.76 636.12L697.42 635.36L697.75 634.21L697.75 633.83L697.42 632.69L696.76 631.93L695.77 631.55L695.44 631.55L694.45 631.93L693.79 632.69L693.46 633.83M700.06 628.50L700.06 636.50M700.06 628.50L704.68 636.50M704.68 628.50L704.68 636.50M694.78 581.50L693.79 581.88L693.46 582.64L693.46 583.40L693.79 584.17L694.45 584.55L695.77 584.93L696.76 585.31L697.42 586.07L697.75 586.83L697.75 587.98L697.42 588.74L697.09 589.12L696.10 589.50L694.78 589.50L693.79 589.12L693.46 588.74L693.13 587.98L693.13 586.83L693.46 586.07L694.12 585.31L695.11 584.93L696.43 584.55L697.09 584.17L697.42 583.40L697.42 582.64L697.09 581.88L696.10 581.50L694.78 581.50M700.06 581.50L700.06 589.50M700.06 581.50L704.68 589.50M704.68 581.50L704.68 589.50M687.52 535.02L688.18 534.64L689.17 533.50L689.17 541.50M695.11 533.50L694.12 533.88L693.46 535.02L693.13 536.93L693.13 538.07L693.46 539.98L694.12 541.12L695.11 541.50L695.77 541.50L696.76 541.12L697.42 539.98L697.75 538.07L697.75 536.93L697.42 535.02L696.76 533.88L695.77 533.50L695.11 533.50M700.06 533.50L700.06 541.50M700.06 533.50L704.68 541.50M704.68 533.50L704.68 541.50M687.52 488.02L688.18 487.64L689.17 486.50L689.17 494.50M693.46 488.40L693.46 488.02L693.79 487.26L694.12 486.88L694.78 486.50L696.10 486.50L696.76 486.88L697.09 487.26L697.42 488.02L697.42 488.79L697.09 489.55L696.43 490.69L693.13 494.50L697.75 494.50M700.06 486.50L700.06 494.50M700.06 486.50L704.68 494.50M704.68 486.50L704.68 494.50M687.52 440.02L688.18 439.64L689.17 438.50L689.17 446.50M696.43 438.50L693.13 443.83L698.08 443.83M696.43 438.50L696.43 446.50M700.06 438.50L700.06 446.50M700.06 438.50L704.68 446.50M704.68 438.50L704.68 446.50M687.52 393.02L688.18 392.64L689.17 391.50L689.17 399.50M697.42 392.64L697.09 391.88L696.10 391.50L695.44 391.50L694.45 391.88L693.79 393.02L693.46 394.93L693.46 396.83L693.79 398.36L694.45 399.12L695.44 399.50L695.77 399.50L696.76 399.12L697.42 398.36L697.75 397.21L697.75 396.83L697.42 395.69L696.76 394.93L695.77 394.55L695.44 394.55L694.45 394.93L693.79 395.69L693.46 396.83M700.06 391.50L700.06 399.50M700.06 391.50L704.68 399.50M704.68 391.50L704.68 399.50M687.52 346.02L688.18 345.64L689.17 344.50L689.17 352.50M694.78 344.50L693.79 344.88L693.46 345.64L693.46 346.40L693.79 347.17L694.45 347.55L695.77 347.93L696.76 348.31L697.42 349.07L697.75 349.83L697.75 350.98L697.42 351.74L697.09 352.12L696.10 352.50L694.78 352.50L693.79 352.12L693.46 351.74L693.13 350.98L693.13 349.83L693.46 349.07L694.12 348.31L695.11 347.93L696.43 347.55L697.09 347.17L697.42 346.40L697.42 345.64L697.09 344.88L696.10 344.50L694.78 344.50M700.06 344.50L700.06 352.50M700.06 344.50L704.68 352.50M704.68 344.50L704.68 352.50M686.86 298.40L686.86 298.02L687.19 297.26L687.52 296.88L688.18 296.50L689.50 296.50L690.16 296.88L690.49 297.26L690.82 298.02L690.82 298.79L690.49 299.55L689.83 300.69L686.53 304.50L691.15 304.50M695.11 296.50L694.12 296.88L693.46 298.02L693.13 299.93L693.13 301.07L693.46 302.98L694.12 304.12L695.11 304.50L695.77 304.50L696.76 304.12L697.42 302.98L697.75 301.07L697.75 299.93L697.42 298.02L696.76 296.88L695.77 296.50L695.11 296.50M700.06 296.50L700.06 304.50M700.06 296.50L704.68 304.50M704.68 296.50L704.68 304.50M686.86 251.40L686.86 251.02L687.19 250.26L687.52 249.88L688.18 249.50L689.50 249.50L690.16 249.88L690.49 250.26L690.82 251.02L690.82 251.78L690.49 252.55L689.83 253.69L686.53 257.50L691.15 257.50M693.46 251.40L693.46 251.02L693.79 250.26L694.12 249.88L694.78 249.50L696.10 249.50L696.76 249.88L697.09 250.26L697.42 251.02L697.42 251.78L697.09 252.55L696.43 253.69L693.13 257.50L697.75 257.50M700.06 249.50L700.06 257.50M700.06 249.50L704.68 257.50M704.68 249.50L704.68 257.50M686.86 203.40L686.86 203.02L687.19 202.26L687.52 201.88L688.18 201.50L689.50 201.50L690.16 201.88L690.49 202.26L690.82 203.02L690.82 203.78L690.49 204.55L689.83 205.69L686.53 209.50L691.15 209.50M696.43 201.50L693.13 206.83L698.08 206.83M696.43 201.50L696.43 209.50M700.06 201.50L700.06 209.50M700.06 201.50L704.68 209.50M704.68 201.50L704.68 209.50M686.86 156.40L686.86 156.02L687.19 155.26L687.52 154.88L688.18 154.50L689.50 154.50L690.16 154.88L690.49 155.26L690.82 156.02L690.82 156.78L690.49 157.55L689.83 158.69L686.53 162.50L691.15 162.50M697.42 155.64L697.09 154.88L696.10 154.50L695.44 154.50L694.45 154.88L693.79 156.02L693.46 157.93L693.46 159.83L693.79 161.36L694.45 162.12L695.44 162.50L695.77 162.50L696.76 162.12L697.42 161.36L697.75 160.21L697.75 159.83L697.42 158.69L696.76 157.93L695.77 157.55L695.44 157.55L694.45 157.93L693.79 158.69L693.46 159.83M700.06 154.50L700.06 162.50M700.06 154.50L704.68 162.50M704.68 154.50L704.68 162.50M719.80 698.94L720.45 698.55L721.43 697.39L721.43 705.50M725.98 697.39L729.55 697.39L727.60 700.48L728.58 700.48L729.23 700.87L729.55 701.25L729.88 702.41L729.88 703.18L729.55 704.34L728.90 705.11L727.93 705.50L726.95 705.50L725.98 705.11L725.65 704.73L725.33 703.96M736.05 698.55L735.73 697.78L734.75 697.39L734.10 697.39L733.12 697.78L732.48 698.94L732.15 700.87L732.15 702.80L732.48 704.34L733.12 705.11L734.10 705.50L734.43 705.50L735.40 705.11L736.05 704.34L736.38 703.18L736.38 702.80L736.05 701.64L735.40 700.87L734.43 700.48L734.10 700.48L733.12 700.87L732.48 701.64L732.15 702.80M738.00 697.39L739.62 705.50M741.25 697.39L739.62 705.50M741.25 697.39L742.88 705.50M744.50 697.39L742.88 705.50M759.80 698.94L760.45 698.55L761.43 697.39L761.43 705.50M765.98 697.39L769.55 697.39L767.60 700.48L768.58 700.48L769.23 700.87L769.55 701.25L769.88 702.41L769.88 703.18L769.55 704.34L768.90 705.11L767.93 705.50L766.95 705.50L765.98 705.11L765.65 704.73L765.33 703.96M775.08 697.39L771.83 702.80L776.70 702.80M775.08 697.39L775.08 705.50M778.00 697.39L779.62 705.50M781.25 697.39L779.62 705.50M781.25 697.39L782.88 705.50M784.50 697.39L782.88 705.50M798.80 698.94L799.45 698.55L800.43 697.39L800.43 705.50M804.98 697.39L808.55 697.39L806.60 700.48L807.58 700.48L808.23 700.87L808.55 701.25L808.88 702.41L808.88 703.18L808.55 704.34L807.90 705.11L806.93 705.50L805.95 705.50L804.98 705.11L804.65 704.73L804.33 703.96M811.15 699.32L811.15 698.94L811.48 698.17L811.80 697.78L812.45 697.39L813.75 697.39L814.40 697.78L814.73 698.17L815.05 698.94L815.05 699.71L814.73 700.48L814.08 701.64L810.83 705.50L815.38 705.50M817.00 697.39L818.62 705.50M820.25 697.39L818.62 705.50M820.25 697.39L821.88 705.50M823.50 697.39L821.88 705.50M838.80 698.94L839.45 698.55L840.43 697.39L840.43 705.50M844.98 697.39L848.55 697.39L846.60 700.48L847.58 700.48L848.23 700.87L848.55 701.25L848.88 702.41L848.88 703.18L848.55 704.34L847.90 705.11L846.93 705.50L845.95 705.50L844.98 705.11L844.65 704.73L844.33 703.96M852.77 697.39L851.80 697.78L851.15 698.94L850.83 700.87L850.83 702.03L851.15 703.96L851.80 705.11L852.77 705.50L853.43 705.50L854.40 705.11L855.05 703.96L855.38 702.03L855.38 700.87L855.05 698.94L854.40 697.78L853.43 697.39L852.77 697.39M857.00 697.39L858.62 705.50M860.25 697.39L858.62 705.50M860.25 697.39L861.88 705.50M863.50 697.39L861.88 705.50M877.80 698.94L878.45 698.55L879.43 697.39L879.43 705.50M883.65 699.32L883.65 698.94L883.98 698.17L884.30 697.78L884.95 697.39L886.25 697.39L886.90 697.78L887.23 698.17L887.55 698.94L887.55 699.71L887.23 700.48L886.58 701.64L883.33 705.50L887.88 705.50M891.45 697.39L890.48 697.78L890.15 698.55L890.15 699.32L890.48 700.10L891.12 700.48L892.43 700.87L893.40 701.25L894.05 702.03L894.38 702.80L894.38 703.96L894.05 704.73L893.73 705.11L892.75 705.50L891.45 705.50L890.48 705.11L890.15 704.73L889.83 703.96L889.83 702.80L890.15 702.03L890.80 701.25L891.77 700.87L893.08 700.48L893.73 700.10L894.05 699.32L894.05 698.55L893.73 697.78L892.75 697.39L891.45 697.39M896.00 697.39L897.62 705.50M899.25 697.39L897.62 705.50M899.25 697.39L900.88 705.50M902.50 697.39L900.88 705.50M917.80 698.94L918.45 698.55L919.43 697.39L919.43 705.50M923.65 699.32L923.65 698.94L923.98 698.17L924.30 697.78L924.95 697.39L926.25 697.39L926.90 697.78L927.23 698.17L927.55 698.94L927.55 699.71L927.23 700.48L926.58 701.64L923.33 705.50L927.88 705.50M934.05 698.55L933.73 697.78L932.75 697.39L932.10 697.39L931.12 697.78L930.48 698.94L930.15 700.87L930.15 702.80L930.48 704.34L931.12 705.11L932.10 705.50L932.43 705.50L933.40 705.11L934.05 704.34L934.38 703.18L934.38 702.80L934.05 701.64L933.40 700.87L932.43 700.48L932.10 700.48L931.12 700.87L930.48 701.64L930.15 702.80M936.00 697.39L937.62 705.50M939.25 697.39L937.62 705.50M939.25 697.39L940.88 705.50M942.50 697.39L940.88 705.50M956.80 698.94L957.45 698.55L958.43 697.39L958.43 705.50M962.65 699.32L962.65 698.94L962.98 698.17L963.30 697.78L963.95 697.39L965.25 697.39L965.90 697.78L966.23 698.17L966.55 698.94L966.55 699.71L966.23 700.48L965.58 701.64L962.33 705.50L966.88 705.50M972.08 697.39L968.83 702.80L973.70 702.80M972.08 697.39L972.08 705.50M975.00 697.39L976.62 705.50M978.25 697.39L976.62 705.50M978.25 697.39L979.88 705.50M981.50 697.39L979.88 705.50M996.80 698.94L997.45 698.55L998.43 697.39L998.43 705.50M1002.65 699.32L1002.65 698.94L1002.98 698.17L1003.30 697.78L1003.95 697.39L1005.25 697.39L1005.90 697.78L1006.23 698.17L1006.55 698.94L1006.55 699.71L1006.23 700.48L1005.58 701.64L1002.33 705.50L1006.88 705.50M1009.15 699.32L1009.15 698.94L1009.48 698.17L1009.80 697.78L1010.45 697.39L1011.75 697.39L1012.40 697.78L1012.73 698.17L1013.05 698.94L1013.05 699.71L1012.73 700.48L1012.08 701.64L1008.83 705.50L1013.38 705.50M1015.00 697.39L1016.62 705.50M1018.25 697.39L1016.62 705.50M1018.25 697.39L1019.88 705.50M1021.50 697.39L1019.88 705.50M1035.80 698.94L1036.45 698.55L1037.42 697.39L1037.42 705.50M1041.65 699.32L1041.65 698.94L1041.97 698.17L1042.30 697.78L1042.95 697.39L1044.25 697.39L1044.90 697.78L1045.22 698.17L1045.55 698.94L1045.55 699.71L1045.22 700.48L1044.57 701.64L1041.32 705.50L1045.88 705.50M1049.77 697.39L1048.80 697.78L1048.15 698.94L1047.82 700.87L1047.82 702.03L1048.15 703.96L1048.80 705.11L1049.77 705.50L1050.42 705.50L1051.40 705.11L1052.05 703.96L1052.38 702.03L1052.38 700.87L1052.05 698.94L1051.40 697.78L1050.42 697.39L1049.77 697.39M1054.00 697.39L1055.62 705.50M1057.25 697.39L1055.62 705.50M1057.25 697.39L1058.88 705.50M1060.50 697.39L1058.88 705.50M1075.80 698.94L1076.45 698.55L1077.42 697.39L1077.42 705.50M1082.30 698.94L1082.95 698.55L1083.92 697.39L1083.92 705.50M1089.45 697.39L1088.47 697.78L1088.15 698.55L1088.15 699.32L1088.47 700.10L1089.12 700.48L1090.42 700.87L1091.40 701.25L1092.05 702.03L1092.38 702.80L1092.38 703.96L1092.05 704.73L1091.72 705.11L1090.75 705.50L1089.45 705.50L1088.47 705.11L1088.15 704.73L1087.82 703.96L1087.82 702.80L1088.15 702.03L1088.80 701.25L1089.77 700.87L1091.07 700.48L1091.72 700.10L1092.05 699.32L1092.05 698.55L1091.72 697.78L1090.75 697.39L1089.45 697.39M1094.00 697.39L1095.62 705.50M1097.25 697.39L1095.62 705.50M1097.25 697.39L1098.88 705.50M1100.50 697.39L1098.88 705.50M1114.80 698.94L1115.45 698.55L1116.42 697.39L1116.42 705.50M1121.30 698.94L1121.95 698.55L1122.92 697.39L1122.92 705.50M1131.05 698.55L1130.72 697.78L1129.75 697.39L1129.10 697.39L1128.12 697.78L1127.47 698.94L1127.15 700.87L1127.15 702.80L1127.47 704.34L1128.12 705.11L1129.10 705.50L1129.42 705.50L1130.40 705.11L1131.05 704.34L1131.38 703.18L1131.38 702.80L1131.05 701.64L1130.40 700.87L1129.42 700.48L1129.10 700.48L1128.12 700.87L1127.47 701.64L1127.15 702.80M1133.00 697.39L1134.62 705.50M1136.25 697.39L1134.62 705.50M1136.25 697.39L1137.88 705.50M1139.50 697.39L1137.88 705.50" class="h1"/>
<polygon points="58,727.5 98.5,719.5 98.5,735.5" fill="#aaaaaa" shape-rendering="auto"/>
<polyline points="98,719.5 58,727.5 98,735.5" fill="none" stroke="#000" stroke-width="1.1" stroke-dasharray="2 3.1"/>
<polygon points="552.8,727.5 510.5,719.5 510.5,735.5" fill="#aaaaaa" shape-rendering="auto"/>
<polyline points="511,719.5 552.8,727.5 511,735.5" fill="none" stroke="#000" stroke-width="1.1" stroke-dasharray="2 3.1"/>
<rect x="98" y="719" width="41" height="17" fill="#009600"/>
<rect x="139" y="719" width="41" height="17" fill="#00dc00"/>
<rect x="180" y="719" width="41" height="17" fill="#a0e632"/>
<rect x="221" y="719" width="42" height="17" fill="#f8ee32"/>
<rect x="263" y="719" width="41" height="17" fill="#e6dc32"/>
<rect x="304" y="719" width="41" height="17" fill="#e6af2d"/>
<rect x="345" y="719" width="41" height="17" fill="#f08228"/>
<rect x="386" y="719" width="41" height="17" fill="#fa3c3c"/>
<rect x="427" y="719" width="42" height="17" fill="#960000"/>
<rect x="469" y="719" width="41" height="17" fill="#8200dc"/>
<path d="M96 719.5H513M96 735.5H513" stroke="#000" stroke-width="1"/>
<path d="M98.5 719V736M139.5 719V736M180.5 719V736M221.5 719V736M263.5 719V736M304.5 719V736M345.5 719V736M386.5 719V736M427.5 719V736M469.5 719V736M510.5 719V736" stroke="#000" stroke-width="1"/>
<path d="M101.65 739.37L97.35 739.37L96.92 743.24L97.35 742.81L98.64 742.38L99.93 742.38L101.22 742.81L102.08 743.67L102.51 744.96L102.51 745.82L102.08 747.11L101.22 747.97L99.93 748.40L98.64 748.40L97.35 747.97L96.92 747.54L96.49 746.68M134.48 741.09L135.34 740.66L136.63 739.37L136.63 748.40M144.37 739.37L143.08 739.80L142.22 741.09L141.79 743.24L141.79 744.53L142.22 746.68L143.08 747.97L144.37 748.40L145.23 748.40L146.52 747.97L147.38 746.68L147.81 744.53L147.81 743.24L147.38 741.09L146.52 739.80L145.23 739.37L144.37 739.37M174.62 741.52L174.62 741.09L175.05 740.23L175.48 739.80L176.34 739.37L178.06 739.37L178.92 739.80L179.35 740.23L179.78 741.09L179.78 741.95L179.35 742.81L178.49 744.10L174.19 748.40L180.21 748.40M185.37 739.37L184.08 739.80L183.22 741.09L182.79 743.24L182.79 744.53L183.22 746.68L184.08 747.97L185.37 748.40L186.23 748.40L187.52 747.97L188.38 746.68L188.81 744.53L188.81 743.24L188.38 741.09L187.52 739.80L186.23 739.37L185.37 739.37M216.05 739.37L220.78 739.37L218.20 742.81L219.49 742.81L220.35 743.24L220.78 743.67L221.21 744.96L221.21 745.82L220.78 747.11L219.92 747.97L218.63 748.40L217.34 748.40L216.05 747.97L215.62 747.54L215.19 746.68M226.37 739.37L225.08 739.80L224.22 741.09L223.79 743.24L223.79 744.53L224.22 746.68L225.08 747.97L226.37 748.40L227.23 748.40L228.52 747.97L229.38 746.68L229.81 744.53L229.81 743.24L229.38 741.09L228.52 739.80L227.23 739.37L226.37 739.37M261.49 739.37L257.19 745.39L263.64 745.39M261.49 739.37L261.49 748.40M268.37 739.37L267.08 739.80L266.22 741.09L265.79 743.24L265.79 744.53L266.22 746.68L267.08 747.97L268.37 748.40L269.23 748.40L270.52 747.97L271.38 746.68L271.81 744.53L271.81 743.24L271.38 741.09L270.52 739.80L269.23 739.37L268.37 739.37M303.35 739.37L299.05 739.37L298.62 743.24L299.05 742.81L300.34 742.38L301.63 742.38L302.92 742.81L303.78 743.67L304.21 744.96L304.21 745.82L303.78 747.11L302.92 747.97L301.63 748.40L300.34 748.40L299.05 747.97L298.62 747.54L298.19 746.68M309.37 739.37L308.08 739.80L307.22 741.09L306.79 743.24L306.79 744.53L307.22 746.68L308.08 747.97L309.37 748.40L310.23 748.40L311.52 747.97L312.38 746.68L312.81 744.53L312.81 743.24L312.38 741.09L311.52 739.80L310.23 739.37L309.37 739.37M344.78 740.66L344.35 739.80L343.06 739.37L342.20 739.37L340.91 739.80L340.05 741.09L339.62 743.24L339.62 745.39L340.05 747.11L340.91 747.97L342.20 748.40L342.63 748.40L343.92 747.97L344.78 747.11L345.21 745.82L345.21 745.39L344.78 744.10L343.92 743.24L342.63 742.81L342.20 742.81L340.91 743.24L340.05 744.10L339.62 745.39M350.37 739.37L349.08 739.80L348.22 741.09L347.79 743.24L347.79 744.53L348.22 746.68L349.08 747.97L350.37 748.40L351.23 748.40L352.52 747.97L353.38 746.68L353.81 744.53L353.81 743.24L353.38 741.09L352.52 739.80L351.23 739.37L350.37 739.37M386.21 739.37L381.91 748.40M380.19 739.37L386.21 739.37M391.37 739.37L390.08 739.80L389.22 741.09L388.79 743.24L388.79 744.53L389.22 746.68L390.08 747.97L391.37 748.40L392.23 748.40L393.52 747.97L394.38 746.68L394.81 744.53L394.81 743.24L394.38 741.09L393.52 739.80L392.23 739.37L391.37 739.37M423.34 739.37L422.05 739.80L421.62 740.66L421.62 741.52L422.05 742.38L422.91 742.81L424.63 743.24L425.92 743.67L426.78 744.53L427.21 745.39L427.21 746.68L426.78 747.54L426.35 747.97L425.06 748.40L423.34 748.40L422.05 747.97L421.62 747.54L421.19 746.68L421.19 745.39L421.62 744.53L422.48 743.67L423.77 743.24L425.49 742.81L426.35 742.38L426.78 741.52L426.78 740.66L426.35 739.80L425.06 739.37L423.34 739.37M432.37 739.37L431.08 739.80L430.22 741.09L429.79 743.24L429.79 744.53L430.22 746.68L431.08 747.97L432.37 748.40L433.23 748.40L434.52 747.97L435.38 746.68L435.81 744.53L435.81 743.24L435.38 741.09L434.52 739.80L433.23 739.37L432.37 739.37M468.78 742.38L468.35 743.67L467.49 744.53L466.20 744.96L465.77 744.96L464.48 744.53L463.62 743.67L463.19 742.38L463.19 741.95L463.62 740.66L464.48 739.80L465.77 739.37L466.20 739.37L467.49 739.80L468.35 740.66L468.78 742.38L468.78 744.53L468.35 746.68L467.49 747.97L466.20 748.40L465.34 748.40L464.05 747.97L463.62 747.11M474.37 739.37L473.08 739.80L472.22 741.09L471.79 743.24L471.79 744.53L472.22 746.68L473.08 747.97L474.37 748.40L475.23 748.40L476.52 747.97L477.38 746.68L477.81 744.53L477.81 743.24L477.38 741.09L476.52 739.80L475.23 739.37L474.37 739.37M501.18 741.09L502.04 740.66L503.33 739.37L503.33 748.40M511.07 739.37L509.78 739.80L508.92 741.09L508.49 743.24L508.49 744.53L508.92 746.68L509.78 747.97L511.07 748.40L511.93 748.40L513.22 747.97L514.08 746.68L514.51 744.53L514.51 743.24L514.08 741.09L513.22 739.80L511.93 739.37L511.07 739.37M519.67 739.37L518.38 739.80L517.52 741.09L517.09 743.24L517.09 744.53L517.52 746.68L518.38 747.97L519.67 748.40L520.53 748.40L521.82 747.97L522.68 746.68L523.11 744.53L523.11 743.24L522.68 741.09L521.82 739.80L520.53 739.37L519.67 739.37" class="h1"/>
<polygon points="676,727.5 730.5,719.5 730.5,735.5" fill="#000064" shape-rendering="auto"/>
<polyline points="730,719.5 676,727.5 730,735.5" fill="none" stroke="#000" stroke-width="1.1" stroke-dasharray="2 3.1"/>
<polygon points="1170.5,727.5 1114.5,719.5 1114.5,735.5" fill="#640000" shape-rendering="auto"/>
<polyline points="1115,719.5 1170.5,727.5 1115,735.5" fill="none" stroke="#000" stroke-width="1.1" stroke-dasharray="2 3.1"/>
<rect x="730" y="719" width="55" height="17" fill="#0000ff"/>
<rect x="785" y="719" width="54" height="17" fill="#7070ff"/>
<rect x="839" y="719" width="55" height="17" fill="#c8c8ff"/>
<rect x="894" y="719" width="55" height="17" fill="#ffffff"/>
<rect x="949" y="719" width="55" height="17" fill="#ffc8c8"/>
<rect x="1004" y="719" width="55" height="17" fill="#ff7070"/>
<rect x="1059" y="719" width="55" height="17" fill="#ff0000"/>
<path d="M728 719.5H1117M728 735.5H1117" stroke="#000" stroke-width="1"/>
<path d="M730.5 719V736M785.5 719V736M839.5 719V736M894.5 719V736M949.5 719V736M1004.5 719V736M1059.5 719V736M1114.5 719V736" stroke="#000" stroke-width="1"/>
<path d="M719.03 744.53L726.77 744.53M731.07 741.09L731.93 740.66L733.22 739.37L733.22 748.40M740.96 739.37L739.67 739.80L738.81 741.09L738.38 743.24L738.38 744.53L738.81 746.68L739.67 747.97L740.96 748.40L741.82 748.40L743.11 747.97L743.97 746.68L744.40 744.53L744.40 743.24L743.97 741.09L743.11 739.80L741.82 739.37L740.96 739.37M778.33 744.53L786.07 744.53M794.24 739.37L789.94 739.37L789.51 743.24L789.94 742.81L791.23 742.38L792.52 742.38L793.81 742.81L794.67 743.67L795.10 744.96L795.10 745.82L794.67 747.11L793.81 747.97L792.52 748.40L791.23 748.40L789.94 747.97L789.51 747.54L789.08 746.68M832.33 744.53L840.07 744.53M843.94 739.37L848.67 739.37L846.09 742.81L847.38 742.81L848.24 743.24L848.67 743.67L849.10 744.96L849.10 745.82L848.67 747.11L847.81 747.97L846.52 748.40L845.23 748.40L843.94 747.97L843.51 747.54L843.08 746.68M887.33 744.53L895.07 744.53M899.37 741.09L900.23 740.66L901.52 739.37L901.52 748.40M948.78 741.09L949.64 740.66L950.93 739.37L950.93 748.40M1003.35 739.37L1008.08 739.37L1005.50 742.81L1006.79 742.81L1007.65 743.24L1008.08 743.67L1008.51 744.96L1008.51 745.82L1008.08 747.11L1007.22 747.97L1005.93 748.40L1004.64 748.40L1003.35 747.97L1002.92 747.54L1002.49 746.68M1062.65 739.37L1058.35 739.37L1057.92 743.24L1058.35 742.81L1059.64 742.38L1060.93 742.38L1062.22 742.81L1063.08 743.67L1063.51 744.96L1063.51 745.82L1063.08 747.11L1062.22 747.97L1060.93 748.40L1059.64 748.40L1058.35 747.97L1057.92 747.54L1057.49 746.68M1109.48 741.09L1110.34 740.66L1111.63 739.37L1111.63 748.40M1119.37 739.37L1118.08 739.80L1117.22 741.09L1116.79 743.24L1116.79 744.53L1117.22 746.68L1118.08 747.97L1119.37 748.40L1120.23 748.40L1121.52 747.97L1122.38 746.68L1122.81 744.53L1122.81 743.24L1122.38 741.09L1121.52 739.80L1120.23 739.37L1119.37 739.37" class="h1"/>
</svg></body></html>
